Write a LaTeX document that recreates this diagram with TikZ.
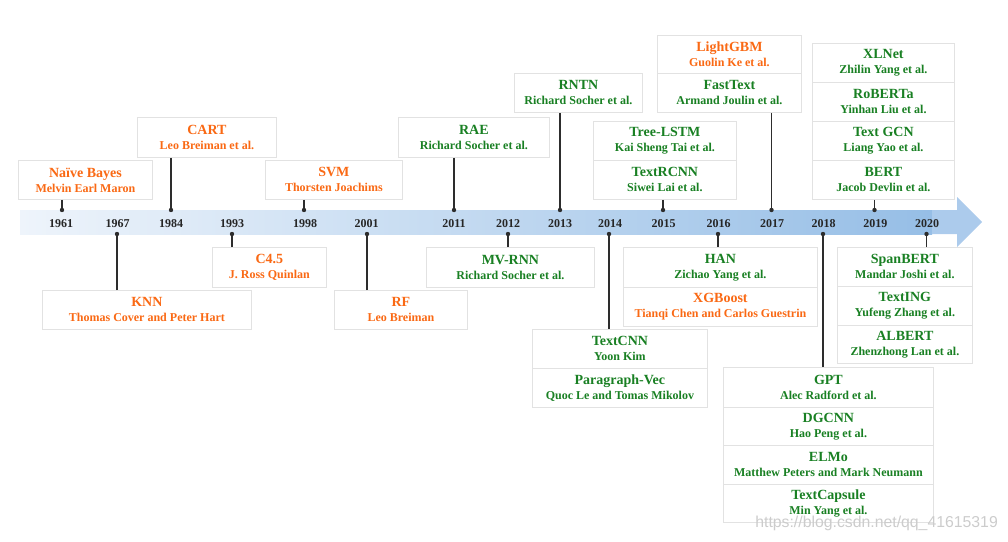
\documentclass[tikz,border=0pt]{standalone}
\usepackage{fontspec}
\setmainfont{Liberation Serif}
\newfontfamily\wmfont{Liberation Sans}
\definecolor{orng}{RGB}{250,105,20}
\definecolor{grn}{RGB}{25,128,35}
\definecolor{boxline}{RGB}{226,226,226}
\definecolor{conncol}{RGB}{45,45,45}
\definecolor{bandL}{RGB}{238,244,251}
\definecolor{bandR}{RGB}{150,190,230}
\definecolor{headcol}{RGB}{172,203,236}
\tikzset{
  cell/.style={draw=boxline, line width=0.8pt, fill=white, inner sep=0pt,
    align=center, font=\fontsize{12}{15}\selectfont\bfseries, anchor=north west},
  conn/.style={draw=conncol, line width=1.1pt},
  yr/.style={font=\fontsize{12}{14}\selectfont\bfseries, text=black!85, inner sep=0pt},
}
% name, x1, y1, width, height, colour, title, subtitle
\newcommand\mkcell[8]{%
  \node[cell, text=#6, minimum width=#4pt, minimum height=#5pt] (#1) at (#2,#3)
    {{\fontsize{14}{15}\selectfont #7}\\#8};}
% coordinate name, x, box name
\newcommand\upconn[3]{%
  \coordinate (#1) at (#2,210);
  \draw[conn] (#3.south -| #1) -- (#1);
  \fill[conncol] (#1) circle (2.2pt);}
\newcommand\dnconn[3]{%
  \coordinate (#1) at (#2,234);
  \draw[conn] (#3.north -| #1) -- (#1);
  \fill[conncol] (#1) circle (2.2pt);}
\begin{document}
\begin{tikzpicture}[x=1pt,y=-1pt]
\useasboundingbox (0,0) rectangle (1008,541);
% timeline band
\shade[left color=bandL, right color=bandR] (20,210) rectangle (932,234);
\fill[headcol] (932,210) -- (957,210) -- (957,197) -- (982,222) -- (957,247) -- (957,234) -- (932,234) -- cycle;
% boxes above
\mkcell{nb}{18}{160}{134}{39}{orng}{Naïve Bayes}{Melvin Earl Maron}
\mkcell{cart}{137}{117}{139}{40}{orng}{CART}{Leo Breiman et al.}
\mkcell{svm}{265}{160}{137}{39}{orng}{SVM}{Thorsten Joachims}
\mkcell{rae}{398}{117}{151}{40}{grn}{RAE}{Richard Socher et al.}
\mkcell{rntn}{514}{73}{128}{39}{grn}{RNTN}{Richard Socher et al.}
\mkcell{treelstm}{593}{121}{143}{39}{grn}{Tree-LSTM}{Kai Sheng Tai et al.}
\mkcell{textrcnn}{593}{160}{143}{39}{grn}{TextRCNN}{Siwei Lai et al.}
\mkcell{lightgbm}{657}{35}{144}{38}{orng}{LightGBM}{Guolin Ke et al.}
\mkcell{fasttext}{657}{73}{144}{39}{grn}{FastText}{Armand Joulin et al.}
\mkcell{xlnet}{812}{43}{142}{39}{grn}{XLNet}{Zhilin Yang et al.}
\mkcell{roberta}{812}{82}{142}{39}{grn}{RoBERTa}{Yinhan Liu et al.}
\mkcell{textgcn}{812}{121}{142}{39}{grn}{Text GCN}{Liang Yao et al.}
\mkcell{bert}{812}{160}{142}{39}{grn}{BERT}{Jacob Devlin et al.}
% boxes below
\mkcell{knn}{42}{290}{209}{39}{orng}{KNN}{Thomas Cover and Peter Hart}
\mkcell{c45}{212}{247}{114}{40}{orng}{C4.5}{J. Ross Quinlan}
\mkcell{rf}{334}{290}{133}{39}{orng}{RF}{Leo Breiman}
\mkcell{mvrnn}{426}{247}{168}{40}{grn}{MV-RNN}{Richard Socher et al.}
\mkcell{textcnn}{532}{329}{175}{39}{grn}{TextCNN}{Yoon Kim}
\mkcell{pvec}{532}{368}{175}{39}{grn}{Paragraph-Vec}{Quoc Le and Tomas Mikolov}
\mkcell{han}{623}{247}{194}{40}{grn}{HAN}{Zichao Yang et al.}
\mkcell{xgb}{623}{287}{194}{39}{orng}{XGBoost}{Tianqi Chen and Carlos Guestrin}
\mkcell{spanbert}{837}{247}{135}{39}{grn}{SpanBERT}{Mandar Joshi et al.}
\mkcell{texting}{837}{286}{135}{39}{grn}{TextING}{Yufeng Zhang et al.}
\mkcell{albert}{837}{325}{135}{38}{grn}{ALBERT}{Zhenzhong Lan et al.}
\mkcell{gpt}{723}{367}{210}{40}{grn}{GPT}{Alec Radford et al.}
\mkcell{dgcnn}{723}{407}{210}{38}{grn}{DGCNN}{Hao Peng et al.}
\mkcell{elmo}{723}{445}{210}{39}{grn}{ELMo}{Matthew Peters and Mark Neumann}
\mkcell{textcapsule}{723}{484}{210}{38}{grn}{TextCapsule}{Min Yang et al.}
% connectors
\upconn{u1961}{62}{nb}
\upconn{u1984}{171}{cart}
\upconn{u1998}{304}{svm}
\upconn{u2011}{454}{rae}
\upconn{u2013}{560}{rntn}
\upconn{u2015}{663}{textrcnn}
\upconn{u2017}{771.5}{fasttext}
\upconn{u2019}{874.5}{bert}
\dnconn{d1967}{117}{knn}
\dnconn{d1993}{232}{c45}
\dnconn{d2001}{367}{rf}
\dnconn{d2012}{508}{mvrnn}
\dnconn{d2014}{609}{textcnn}
\dnconn{d2016}{718}{han}
\dnconn{d2018}{823}{gpt}
\dnconn{d2020}{926.5}{spanbert}
% years
\node[yr] (t1961) at (61,224) {1961};
\node[yr] (t1967) at (117.5,224) {1967};
\node[yr] (t1984) at (171,224) {1984};
\node[yr] (t1993) at (232,224) {1993};
\node[yr] (t1998) at (305,224) {1998};
\node[yr] (t2001) at (366.5,224) {2001};
\node[yr] (t2011) at (454,224) {2011};
\node[yr] (t2012) at (508,224) {2012};
\node[yr] (t2013) at (560,224) {2013};
\node[yr] (t2014) at (610,224) {2014};
\node[yr] (t2015) at (663.5,224) {2015};
\node[yr] (t2016) at (718.5,224) {2016};
\node[yr] (t2017) at (772,224) {2017};
\node[yr] (t2018) at (823.5,224) {2018};
\node[yr] (t2019) at (875.3,224) {2019};
\node[yr] (t2020) at (927,224) {2020};
% watermark
\node[font=\wmfont\fontsize{15.8}{16}\selectfont, text=gray!40, anchor=east, inner sep=0pt] (wm) at (998,523) {https://blog.csdn.net/qq\_41615319};
\end{tikzpicture}
\end{document}
